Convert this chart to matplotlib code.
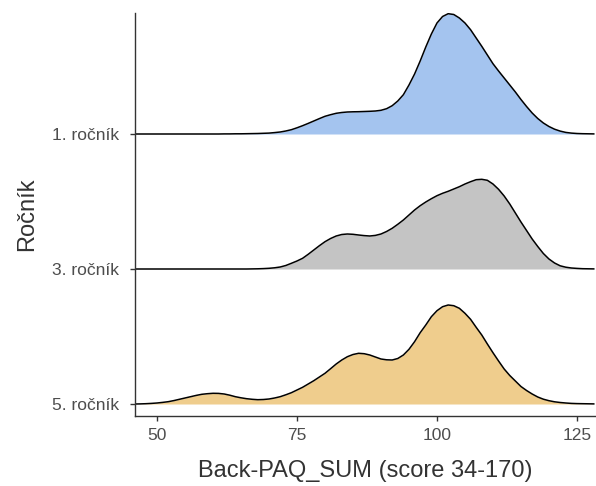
import numpy as np
import matplotlib.pyplot as plt

plt.rcParams['font.family'] = ['Liberation Sans', 'DejaVu Sans']

# x grid (Back-PAQ_SUM, 46..128) and ridge heights
score = list(range(46, 129))

rocnik_1 = [0, 0, 0, 0, 0, 0, 0, 0, 0, 0,
            0, 0, 0, 0, 0, 0, 0.1, 0.1, 0.2, 0.2,
            0.3, 0.4, 0.5, 0.7, 0.9, 1.4, 2, 3, 4.3, 6.2,
            8.3, 10.6, 13, 15.4, 17.7, 19.3, 20.7, 21.5, 22, 22.2,
            22.3, 22.5, 22.7, 23, 23.7, 25.3, 28.3, 33, 39.3, 49,
            60, 73, 87, 100, 111, 117.5, 120.3, 119.5, 116, 111,
            104.3, 96, 87.7, 79, 70.3, 63, 56, 49, 42, 34.5,
            27.5, 21, 15.5, 11, 7.5, 4.8, 2.9, 1.6, 0.9, 0.5,
            0.3, 0.2, 0.1]
rocnik_3 = [0, 0, 0, 0, 0, 0, 0, 0, 0, 0,
            0, 0, 0, 0, 0, 0, 0, 0, 0, 0,
            0, 0.1, 0.2, 0.4, 0.7, 1.2, 2, 3.5, 5.7, 8,
            10.7, 14.7, 19, 23.3, 27.3, 30.5, 33, 34.5, 35, 34.7,
            34, 33.4, 33, 33.6, 35, 37.5, 40.7, 44.7, 49, 54,
            59, 63.3, 67, 70.3, 73.3, 75.7, 77.7, 80, 82.3, 85,
            87.3, 89.3, 89.7, 88.7, 85, 79.7, 73, 65, 56, 47,
            38.5, 30, 22.5, 15.5, 10, 6, 3.2, 1.8, 1, 0.6,
            0.3, 0.2, 0.1]
rocnik_5 = [0, 0.1, 0.3, 0.6, 1, 1.6, 2.3, 3.4, 4.7, 6,
            7.3, 8.6, 9.7, 10.3, 10.7, 10.6, 10, 8.8, 7.3, 6.2,
            5.3, 4.7, 4.3, 4.5, 5, 6, 7.3, 9.2, 11.3, 14,
            16.7, 20, 23.3, 27, 30.7, 35.3, 40, 44, 47.3, 49.5,
            50.7, 50.3, 49, 47, 45, 44.2, 44, 45.5, 49, 54.7,
            62.3, 71.3, 79, 87.3, 93.3, 97.3, 99, 98.3, 95.7, 90.7,
            84.7, 76.7, 69, 60, 51.3, 43, 35, 28.5, 23, 17.5,
            13.5, 10, 7, 4.8, 3.3, 2.2, 1.5, 1, 0.6, 0.4,
            0.3, 0.2, 0.1]

labels = ['1. ročník', '3. ročník', '5. ročník']
series = [rocnik_1, rocnik_3, rocnik_5]
colors = ['#a4c4ef', '#c4c4c4', '#efcd8d']
baselines = [2, 1, 0]
row_height = 135.0  # spacing between ridges in the source

fig = plt.figure(figsize=(5.96, 4.86), dpi=100)
ax = fig.add_axes([135 / 596, 1 - 416 / 486, 1 - 135 / 596, (416 - 13) / 486])

x = np.array(score, dtype=float)
for lab, h, col, b in zip(labels, series, colors, baselines):
    y = b + np.array(h) / row_height
    ax.fill_between(x, b, y, color=col, lw=0)
    ax.plot(x, y, color='black', lw=1.1, solid_joinstyle='round')

ax.set_xlim(46.07, 128.4)
ax.set_ylim(-12 / row_height, 2 + 121 / row_height)
ax.set_xticks([50, 75, 100, 125])
ax.set_yticks(baselines)
ax.set_yticklabels(labels)

for s in ['top', 'right']:
    ax.spines[s].set_visible(False)
for s in ['left', 'bottom']:
    ax.spines[s].set_color('#333333')
    ax.spines[s].set_linewidth(1.0)
ax.tick_params(colors='#333333', length=3.6, width=1.0, labelsize=12.5, labelcolor='#4d4d4d')
ax.tick_params(axis='y', pad=8)
ax.tick_params(axis='x', pad=5)

ax.set_xlabel('Back-PAQ_SUM (score 34-170)', fontsize=17, color='#333333', labelpad=12)
ax.set_ylabel('Ročník', fontsize=17, color='#333333', labelpad=10)

fig.savefig('out.png', dpi=100)
